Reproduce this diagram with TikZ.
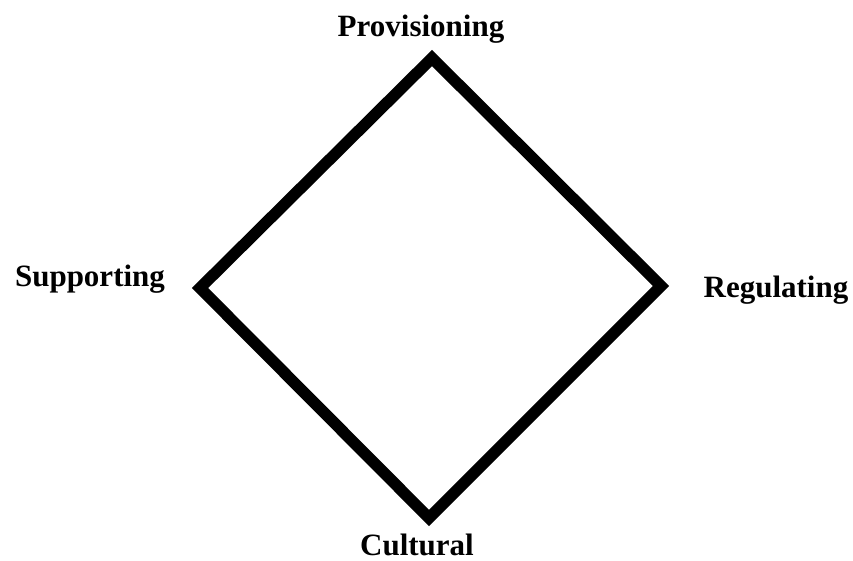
\documentclass[tikz,border=0pt]{standalone}
\usepackage{fontspec}
\setmainfont{Liberation Serif}
\usepackage{tikz}
\usetikzlibrary{calc}

\begin{document}
\begin{tikzpicture}[x=1pt,y=-1pt,
    service/.style={anchor=base,inner sep=0pt,font=\fontsize{31}{37}\selectfont\bfseries}]
    \useasboundingbox (0,0) rectangle (853,560);
   % Corners of the diamond
    \coordinate (prov) at (432,58);
    \coordinate (supp) at (200,288);
    \coordinate (cult) at (429,518);
    \coordinate (regu) at (661,286);
    % Draw the diamond
    \draw[line width=11.5pt] (prov) -- (regu) -- (cult) -- (supp) -- cycle;
    % Labels
    \node[service] (provlabel) at (421,36) {Provisioning};
    \node[service] (supplabel) at (90,286) {Supporting};
    \node[service] (regulabel) at (776,297) {Regulating};
    \node[service] (cultlabel) at (417,555) {Cultural};
\end{tikzpicture}
\end{document}
